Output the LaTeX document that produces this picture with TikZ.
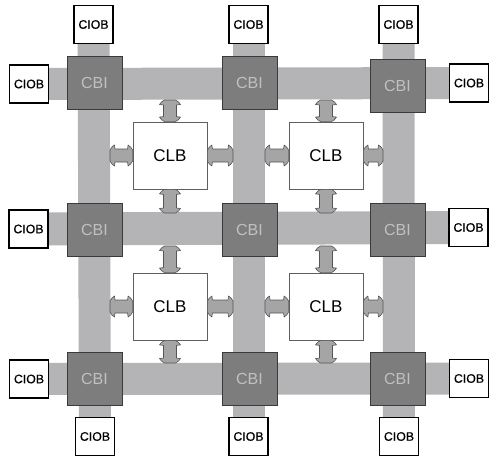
\documentclass[tikz,border=0pt]{standalone}
\usepackage{fontspec}
\setmainfont{Liberation Sans}
\newfontfamily\ciobfont[FakeBold=0.6]{Liberation Sans}
\usetikzlibrary{backgrounds,calc}

\definecolor{busgray}{RGB}{180,180,182}
\definecolor{cbifill}{RGB}{125,125,125}
\definecolor{cbiedge}{RGB}{58,58,58}
\definecolor{cbitext}{RGB}{192,192,192}
\definecolor{clbedge}{RGB}{95,95,95}
\definecolor{arrfill}{RGB}{165,165,165}
\definecolor{arredge}{RGB}{85,85,85}

\tikzset{
  cbi/.style={draw=cbiedge, line width=1pt, fill=cbifill, minimum width=55, minimum height=53,
    inner sep=0pt, text=cbitext, font=\fontsize{16}{16}\selectfont},
  ciob/.style={draw=black, line width=1.2pt, fill=white, minimum width=39, minimum height=38,
    inner sep=0pt, font=\ciobfont\fontsize{12.3}{12}\selectfont},
  clb/.style={draw=clbedge, line width=0.8pt, fill=white, minimum width=74, minimum height=67,
    inner sep=0pt, font=\fontsize{17}{17}\selectfont},
  bus/.style={line width=32, draw=busgray, line cap=butt},
  linkshape/.style={fill=arrfill, draw=arredge, line width=0.6pt, line join=round},
}

% double-headed link arrow between two points, flared heads
\newcommand\linkarrow[2]{%
  \path let \p1=(#1), \p2=(#2),
    \n1={atan2(\y2-\y1,\x2-\x1)}, \n2={veclen(\x2-\x1,\y2-\y1)} in
    \pgfextra{\xdef\lkang{\n1}\xdef\lklen{\n2}\xdef\lkx{\x1}\xdef\lky{\y1}};
  \begin{scope}[shift={(\lkx,\lky)}, rotate=\lkang]
    \path[linkshape]
      (0pt,-5.5pt) -- (0pt,5.5pt) .. controls (1pt,7.5pt) and (2.5pt,9.5pt) .. (4.5pt,10.5pt)
      -- (5pt,6.5pt) -- (\lklen-5pt,6.5pt) -- (\lklen-4.5pt,10.5pt)
      .. controls (\lklen-2.5pt,9.5pt) and (\lklen-1pt,7.5pt) .. (\lklen,5.5pt)
      -- (\lklen,-5.5pt) .. controls (\lklen-1pt,-7.5pt) and (\lklen-2.5pt,-9.5pt) .. (\lklen-4.5pt,-10.5pt)
      -- (\lklen-5pt,-6.5pt) -- (5pt,-6.5pt) -- (4.5pt,-10.5pt)
      .. controls (2.5pt,-9.5pt) and (1pt,-7.5pt) .. (0pt,-5.5pt) -- cycle;
  \end{scope}%
}

\begin{document}
\begin{tikzpicture}[x=1pt, y=-1pt]
\useasboundingbox (0,0) rectangle (489,459);

% I/O blocks around the border
\node[ciob] (t1) at (93.5,24.5) {CIOB};
\node[ciob] (t2) at (248.5,24.5) {CIOB};
\node[ciob] (t3) at (398.5,24.5) {CIOB};
\node[ciob] (b1) at (95,436.5) {CIOB};
\node[ciob] (b2) at (248.5,436.5) {CIOB};
\node[ciob] (b3) at (399,436.5) {CIOB};
\node[ciob] (l1) at (29,84) {CIOB};
\node[ciob] (l2) at (28.5,229) {CIOB};
\node[ciob] (l3) at (29,379) {CIOB};
\node[ciob] (r1) at (469,83) {CIOB};
\node[ciob] (r2) at (468.5,227.5) {CIOB};
\node[ciob] (r3) at (469,378.5) {CIOB};

% interconnect blocks
\node[cbi] (c11) at (94.5,82.5) {CBI};
\node[cbi] (c12) at (249.5,82.5) {CBI};
\node[cbi] (c13) at (397.5,86) {CBI};
\node[cbi] (c21) at (94.5,230) {CBI};
\node[cbi] (c22) at (249.5,230) {CBI};
\node[cbi] (c23) at (397.5,230) {CBI};
\node[cbi] (c31) at (94.5,379) {CBI};
\node[cbi] (c32) at (249.5,379) {CBI};
\node[cbi] (c33) at (397.5,378.5) {CBI};

% logic blocks
\node[clb] (g11) at (170,155.5) {CLB};
\node[clb] (g12) at (326,155.5) {CLB};
\node[clb] (g21) at (170,306.5) {CLB};
\node[clb] (g22) at (326,306.5) {CLB};

% white page and routing channels behind the blocks
\begin{scope}[on background layer]
  \fill[white] (0,0) rectangle (489,459);
  \draw[bus] (t1.center) -- (b1.center);
  \draw[bus] (t2.center) -- (b2.center);
  \draw[bus] (t3.center) -- (b3.center);
  \draw[bus] (l1.center) -- (r1.center);
  \draw[bus, line width=33] (l2.center) -- (r2.center);
  \draw[bus] (l3.center) -- (r3.center);
\end{scope}

% channel edges facing the logic blocks
\coordinate (h1b) at (0,100);
\coordinate (h2t) at (0,213);
\coordinate (h2b) at (0,246);
\coordinate (h3t) at (0,363);
\coordinate (v1r) at (110,0);
\coordinate (v2l) at (233,0);
\coordinate (v2r) at (265,0);
\coordinate (v3l) at (383,0);

% logic block links to the channels
\linkarrow{g11.north}{g11.north |- h1b}
\linkarrow{g11.south}{g11.south |- h2t}
\linkarrow{g11.west}{g11.west -| v1r}
\linkarrow{g11.east}{g11.east -| v2l}
\linkarrow{g12.north}{g12.north |- h1b}
\linkarrow{g12.south}{g12.south |- h2t}
\linkarrow{g12.west}{g12.west -| v2r}
\linkarrow{g12.east}{g12.east -| v3l}
\linkarrow{g21.north}{g21.north |- h2b}
\linkarrow{g21.south}{g21.south |- h3t}
\linkarrow{g21.west}{g21.west -| v1r}
\linkarrow{g21.east}{g21.east -| v2l}
\linkarrow{g22.north}{g22.north |- h2b}
\linkarrow{g22.south}{g22.south |- h3t}
\linkarrow{g22.west}{g22.west -| v2r}
\linkarrow{g22.east}{g22.east -| v3l}
\end{tikzpicture}
\end{document}
